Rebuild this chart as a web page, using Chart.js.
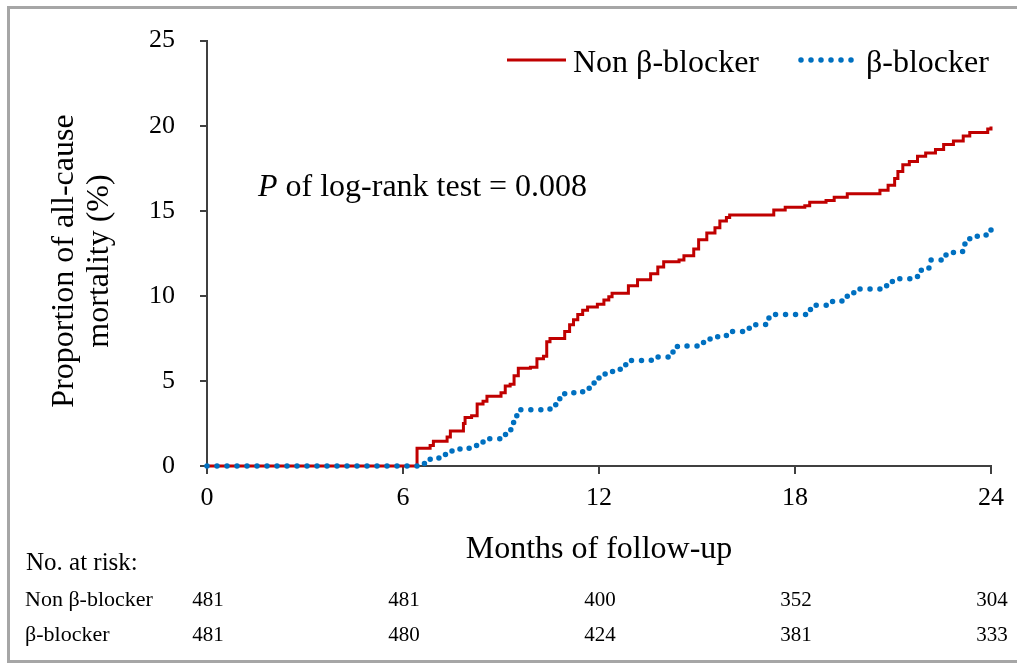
<!DOCTYPE html>
<html>
<head>
<meta charset="utf-8">
<script src="https://cdn.jsdelivr.net/npm/chart.js@4/dist/chart.umd.min.js"></script>
<style>
  html, body { margin: 0; padding: 0; background: #fff; overflow: hidden; }
  #wrap { position: relative; width: 1017px; height: 664px; }
  #frame { position: absolute; left: 7px; top: 6px; width: 1040px; height: 651px;
           border: 3px solid #a6a6a6; pointer-events: none; }
</style>
</head>
<body>
<div id="wrap">
  <canvas id="c" width="1017" height="664"></canvas>
  <div id="frame"></div>
</div>
<script>
// ---- data ----
const seriesNames = ['Non β-blocker', 'β-blocker'];

const nonBBMonths = [0, 6.27, 6.43, 6.83, 6.93, 7.35, 7.45, 7.85, 7.9, 8.1, 8.27, 8.45, 8.57, 9.0, 9.13, 9.28, 9.4, 9.53, 9.9, 10.1, 10.3, 10.4, 10.5, 10.95, 11.1, 11.22, 11.35, 11.5, 11.65, 11.95, 12.15, 12.3, 12.4, 12.9, 13.18, 13.58, 13.8, 13.98, 14.45, 14.6, 14.9, 15.05, 15.3, 15.55, 15.7, 15.9, 16.0, 17.35, 17.7, 18.3, 18.45, 18.95, 19.2, 19.6, 20.6, 20.85, 21.05, 21.15, 21.3, 21.5, 21.75, 22.0, 22.3, 22.55, 22.85, 23.15, 23.35, 23.9, 24];
const nonBBPct    = [0, 0, 1.05, 1.2, 1.45, 1.7, 2.05, 2.5, 2.85, 2.95, 3.65, 3.8, 4.1, 4.3, 4.7, 4.8, 5.3, 5.75, 5.8, 6.3, 6.45, 7.3, 7.5, 7.9, 8.3, 8.6, 8.9, 9.15, 9.35, 9.5, 9.75, 9.95, 10.15, 10.6, 10.95, 11.3, 11.7, 12.0, 12.1, 12.35, 12.75, 13.3, 13.7, 14.0, 14.4, 14.6, 14.75, 15.05, 15.2, 15.3, 15.5, 15.6, 15.8, 16.0, 16.2, 16.5, 16.9, 17.3, 17.7, 17.9, 18.2, 18.4, 18.6, 18.9, 19.1, 19.4, 19.6, 19.8, 19.95];

const bbMonths = [0, 6.3, 6.6, 6.8, 7.1, 7.3, 7.5, 7.8, 8.05, 8.3, 8.45, 9.0, 9.2, 9.3, 9.4, 9.55, 10.5, 10.65, 10.8, 10.95, 11.5, 11.7, 11.85, 12.0, 12.25, 12.65, 12.85, 13.6, 14.25, 14.4, 15.2, 15.4, 15.9, 16.6, 17.1, 17.3, 18.4, 18.6, 19.15, 19.6, 19.8, 20.6, 20.9, 21.1, 21.75, 22.1, 22.55, 22.85, 23.2, 23.35, 23.85, 24];
const bbPct    = [0, 0, 0.15, 0.4, 0.5, 0.75, 1.0, 1.05, 1.2, 1.4, 1.6, 1.85, 2.05, 2.55, 2.95, 3.3, 3.35, 3.6, 4.0, 4.3, 4.5, 4.8, 5.1, 5.4, 5.55, 5.95, 6.2, 6.4, 6.7, 7.05, 7.3, 7.6, 7.9, 8.3, 8.7, 8.9, 9.2, 9.45, 9.7, 10.1, 10.4, 10.6, 10.85, 11.0, 11.5, 12.1, 12.4, 12.6, 13.05, 13.5, 13.8, 13.9];

const xTickMonths = [0, 6, 12, 18, 24];
const yTickValues = [0, 5, 10, 15, 20, 25];
const riskNonBB = [481, 481, 400, 352, 304];
const riskBB    = [481, 480, 424, 381, 333];

const xTitle = 'Months of follow-up';
const yTitle = ['Proportion of all-cause', 'mortality (%)'];
const pText = ' of log-rank test = 0.008';
const riskHeader = 'No. at risk:';

// ---- build ----
const toXY = (xs, ys) => xs.map((x, i) => ({ x: x, y: ys[i] }));
const RED = '#C00000', BLUE = '#0070C0', AXIS = '#404040';
const SERIF = '"Liberation Serif", "Times New Roman", serif';

const overlay = {
  id: 'overlay',
  afterDraw(chart) {
    const ctx = chart.ctx, ca = chart.chartArea;
    const xs = chart.scales.x;
    const ds = chart.data.datasets;
    ctx.save();
    ctx.fillStyle = '#000';
    ctx.textBaseline = 'alphabetic';

    // legend
    const legendItems = [
      { ds: ds[1], x0: 507, x1: 566, tx: 573 },
      { ds: ds[0], x0: 801, x1: 857, tx: 866 }
    ];
    legendItems.forEach(it => {
      ctx.save();
      ctx.strokeStyle = it.ds.borderColor;
      ctx.lineWidth = it.ds.borderWidth;
      ctx.lineCap = it.ds.borderCapStyle || 'butt';
      ctx.setLineDash(it.ds.borderDash || []);
      ctx.beginPath();
      ctx.moveTo(it.x0, 60);
      ctx.lineTo(it.x1, 60);
      ctx.stroke();
      ctx.restore();
      ctx.font = '32px ' + SERIF;
      ctx.textAlign = 'left';
      ctx.fillText(it.ds.label, it.tx, 72);
    });

    // P annotation
    ctx.textAlign = 'left';
    ctx.font = 'italic 32px ' + SERIF;
    ctx.fillText('P', 258, 196);
    const pw = ctx.measureText('P').width;
    ctx.font = '32px ' + SERIF;
    ctx.fillText(pText, 258 + pw, 196);

    // axis titles
    ctx.font = '32px ' + SERIF;
    ctx.textAlign = 'center';
    ctx.fillText(xTitle, (ca.left + ca.right) / 2, 558);
    ctx.save();
    ctx.translate(0, 261);
    ctx.rotate(-Math.PI / 2);
    ctx.fillText(yTitle[0], 0, 73);
    ctx.fillText(yTitle[1], 0, 108);
    ctx.restore();

    // number at risk
    ctx.textAlign = 'left';
    ctx.font = '25px ' + SERIF;
    ctx.fillText(riskHeader, 26, 570);
    ctx.font = '22px ' + SERIF;
    ctx.fillText(seriesNames[0], 25, 606);
    ctx.fillText(seriesNames[1], 25, 641);
    ctx.font = '21px ' + SERIF;
    ctx.textAlign = 'center';
    xTickMonths.forEach((m, i) => {
      const px = xs.getPixelForValue(m) + 1;
      ctx.fillText(String(riskNonBB[i]), px, 606);
      ctx.fillText(String(riskBB[i]), px, 641);
    });
    ctx.restore();
  }
};

new Chart(document.getElementById('c'), {
  type: 'line',
  data: {
    datasets: [
      {
        label: seriesNames[1],
        data: toXY(bbMonths, bbPct),
        borderColor: BLUE,
        borderWidth: 5.5,
        borderDash: [0, 10],
        borderCapStyle: 'round',
        stepped: 'before',
        pointRadius: 0,
        fill: false,
        clip: false,
        order: 0
      },
      {
        label: seriesNames[0],
        data: toXY(nonBBMonths, nonBBPct),
        borderColor: RED,
        borderWidth: 3,
        stepped: 'before',
        pointRadius: 0,
        fill: false,
        clip: false,
        order: 1
      }
    ]
  },
  options: {
    responsive: false,
    animation: false,
    events: [],
    layout: { padding: { left: 0, right: 26, top: 35, bottom: 0 } },
    plugins: { legend: { display: false }, tooltip: { enabled: false } },
    scales: {
      x: {
        type: 'linear',
        min: 0, max: 24,
        afterBuildTicks: s => { s.ticks = xTickMonths.map(v => ({ value: v })); },
        afterFit: s => { s.height = 198; },
        ticks: { color: '#000', font: { family: SERIF, size: 26 }, padding: 9, maxRotation: 0 },
        grid: { drawOnChartArea: false, drawTicks: true, tickLength: 8, color: AXIS, lineWidth: 2 },
        border: { color: AXIS, width: 2 }
      },
      y: {
        type: 'linear',
        min: 0, max: 25,
        afterBuildTicks: s => { s.ticks = yTickValues.map(v => ({ value: v })); },
        afterFit: s => { s.width = 207; },
        ticks: { color: '#000', font: { family: SERIF, size: 26 }, padding: 25 },
        grid: { drawOnChartArea: false, drawTicks: true, tickLength: 7, color: AXIS, lineWidth: 2 },
        border: { color: AXIS, width: 2 }
      }
    }
  },
  plugins: [overlay]
});
</script>
</body>
</html>
